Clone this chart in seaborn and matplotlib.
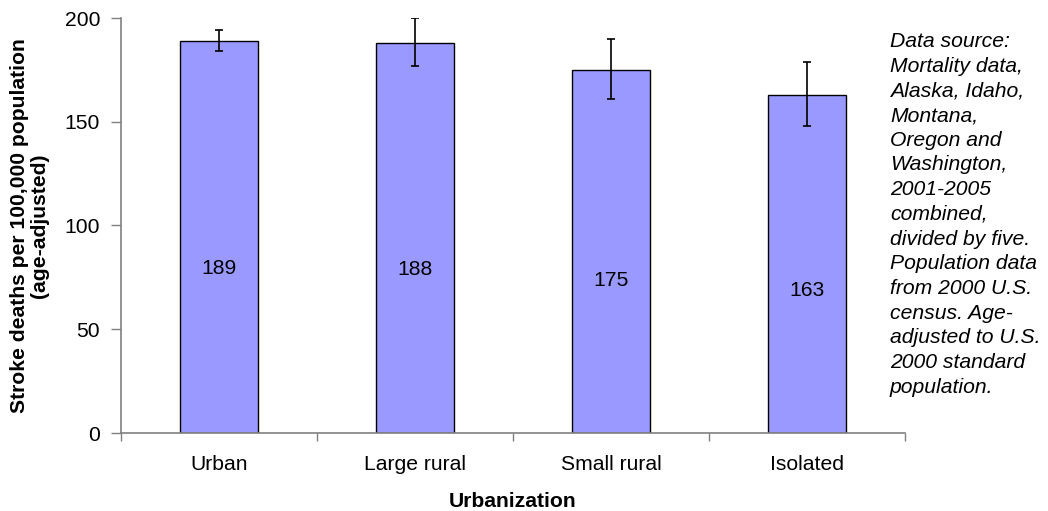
import matplotlib
matplotlib.use("Agg")
import matplotlib.pyplot as plt
import seaborn as sns
import pandas as pd
import numpy as np

categories = ["Urban", "Large rural", "Small rural", "Isolated"]
rates = [189, 188, 175, 163]
ci_low = [184, 177, 161, 148]
ci_high = [194, 200, 190, 179]
value_labels = ["189", "188", "175", "163"]
yticks = [0, 50, 100, 150, 200]

note = ("Data source:\nMortality data,\nAlaska, Idaho,\nMontana,\nOregon and\nWashington,\n2001-2005\n"
        "combined,\ndivided by five.\nPopulation data\nfrom 2000 U.S.\ncensus. Age-\nadjusted to U.S.\n"
        "2000 standard\npopulation.")

sns.set_theme(style="white")
plt.rcParams['font.family'] = ['Liberation Sans', 'DejaVu Sans']
FS = 15.2

df = pd.DataFrame({"Urbanization": categories, "rate": rates})

fig = plt.figure(figsize=(10.48, 5.11), dpi=100)
ax = fig.add_axes([121/1048, 1 - 433/511, (905-121)/1048, (433-18)/511])

sns.barplot(data=df, x="Urbanization", y="rate", color="#9999FF", width=0.4,
            edgecolor="black", linewidth=1.0, saturation=1, ax=ax, errorbar=None)

x = np.arange(len(categories))
vals = np.array(rates)
yerr = np.vstack([vals - np.array(ci_low), np.array(ci_high) - vals])
ax.errorbar(x, vals, yerr=yerr, fmt="none", ecolor="black", elinewidth=1.2,
            capsize=3, capthick=1.2, zorder=5)

for xi, v, lab in zip(x, rates, value_labels):
    ax.text(xi, v * 0.42, lab, ha="center", va="center", fontsize=FS, color="black")

ax.set_xlim(-0.5, len(categories) - 0.5)
ax.set_ylim(0, 200)
ax.set_yticks(yticks)
ax.set_yticklabels([str(t) for t in yticks], fontsize=FS, color="black")
ax.set_xticks(x)
ax.set_xticklabels(categories, fontsize=FS, color="black")
ax.tick_params(axis="x", length=0, pad=16)
ax.tick_params(axis="y", length=7, width=1, color="#808080", direction="out", pad=8, left=True)
# category boundary ticks
ax.set_xticks(np.arange(-0.5, len(categories), 1.0), minor=True)
ax.tick_params(axis="x", which="minor", length=6, width=1, color="#808080", direction="out", bottom=True)

for s in ["top", "right"]:
    ax.spines[s].set_visible(False)
for s in ["left", "bottom"]:
    ax.spines[s].set_color("#808080")
    ax.spines[s].set_linewidth(1.2)

ax.set_xlabel("Urbanization", fontsize=FS, fontweight="bold", labelpad=13, color="black")
ax.set_ylabel("Stroke deaths per 100,000 population\n(age-adjusted)", fontsize=FS,
              fontweight="bold", labelpad=11, linespacing=1.1, color="black")

fig.text(890/1048, 1 - 32/511, note, ha="left", va="top", fontsize=FS, style="italic",
         linespacing=1.38, color="black")

fig.savefig("out.png", dpi=100)
